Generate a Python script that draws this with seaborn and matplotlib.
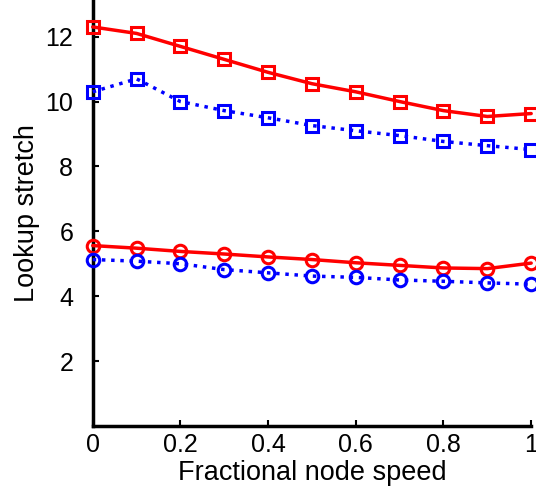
import numpy as np
import pandas as pd
import matplotlib
matplotlib.use("Agg")
import matplotlib.pyplot as plt
import seaborn as sns

speed = [0, 0.1, 0.2, 0.3, 0.4, 0.5, 0.6, 0.7, 0.8, 0.9, 1.0]
red_sq = [12.3, 12.1, 11.7, 11.3, 10.9, 10.55, 10.3, 10.0, 9.72, 9.54, 9.63]
blue_sq = [10.3, 10.7, 10.0, 9.72, 9.5, 9.26, 9.1, 8.95, 8.77, 8.64, 8.52]
red_ci = [5.56, 5.48, 5.38, 5.30, 5.21, 5.13, 5.03, 4.95, 4.87, 4.85, 5.02]
blue_ci = [5.13, 5.08, 5.0, 4.82, 4.72, 4.62, 4.58, 4.50, 4.46, 4.41, 4.37]

sns.set_style("ticks")
plt.rcParams['font.family'] = ['Liberation Sans', 'DejaVu Sans']
plt.rcParams['text.color'] = 'black'
plt.rcParams['axes.labelcolor'] = 'black'
plt.rcParams['xtick.color'] = 'black'
plt.rcParams['ytick.color'] = 'black'

fig = plt.figure(figsize=(5.36, 4.93), dpi=100)
ax = fig.add_axes([0.173, 0.136, 0.818, 0.862])

series = [
    (red_sq, 'red', '-', 's', 8),
    (blue_sq, 'blue', ':', 's', 8),
    (red_ci, 'red', '-', 'o', 9),
    (blue_ci, 'blue', ':', 'o', 9),
]
for vals, col, ls, mk, ms in series:
    sns.lineplot(x=speed, y=vals, ax=ax, color=col, linestyle=ls, linewidth=2.5,
                 marker=mk, markersize=ms, markerfacecolor='none',
                 markeredgecolor=col, markeredgewidth=2.2, clip_on=False, zorder=3)

ax.set_xlim(0, 1)
ax.set_ylim(0, 13.1)
ax.set_xticks([0, 0.2, 0.4, 0.6, 0.8, 1])
ax.set_xticklabels(['0', '0.2', '0.4', '0.6', '0.8', '1'])
ax.set_yticks([2, 4, 6, 8, 10, 12])
ax.set_xlabel('Fractional node speed', fontsize=19.5, labelpad=2)
ax.set_ylabel('Lookup stretch', fontsize=19.5, labelpad=4)
ax.tick_params(direction='in', length=4, width=1.5, labelsize=18, pad=5)
ax.tick_params(axis='y', pad=14)
sns.despine(ax=ax)
for s in ['left', 'bottom']:
    ax.spines[s].set_linewidth(2.5)
    ax.spines[s].set_color('black')

fig.savefig('out.png', dpi=100)
